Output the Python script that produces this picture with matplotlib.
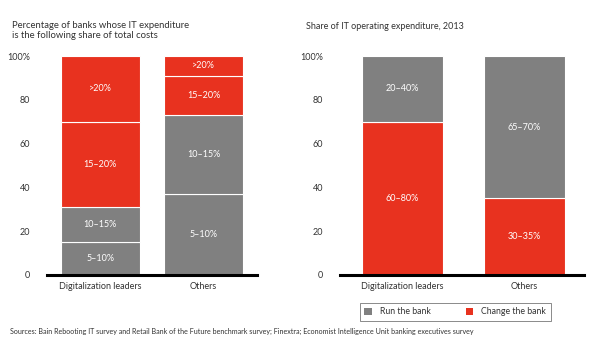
import matplotlib
matplotlib.use("Agg")
import matplotlib.pyplot as plt
from matplotlib.patches import Patch

plt.rcParams['font.family'] = ['Lato', 'DejaVu Sans']

GRAY = '#808080'
RED = '#e8321f'
TXT = '#333333'

# Left chart: share of banks by IT expenditure bucket
left_cats = ['Digitalization leaders', 'Others']
left_buckets = ['5–10%', '10–15%', '15–20%', '>20%']
left_values = {
    '5–10%': [15, 37],
    '10–15%': [16, 36],
    '15–20%': [39, 18],
    '>20%': [30, 9],
}
left_colors = [GRAY, GRAY, RED, RED]

# Right chart: share of IT operating expenditure, 2013
right_cats = ['Digitalization leaders', 'Others']
right_series = ['Change the bank', 'Run the bank']
right_values = {
    'Change the bank': [70, 35],
    'Run the bank': [30, 65],
}
right_labels = {
    'Change the bank': ['60–80%', '30–35%'],
    'Run the bank': ['20–40%', '65–70%'],
}
right_colors = {'Change the bank': RED, 'Run the bank': GRAY}

yticks = [0, 20, 40, 60, 80, 100]
ytick_labels = ['0', '20', '40', '60', '80', '100%']

fig = plt.figure(figsize=(6, 3.42), dpi=100)
bottom = 1 - 275 / 342
height = 219 / 342
axL = fig.add_axes([47 / 600, bottom, 210 / 600, height])
axR = fig.add_axes([340 / 600, bottom, 244 / 600, height])


def style(ax):
    for s in ['top', 'right', 'left']:
        ax.spines[s].set_visible(False)
    ax.spines['bottom'].set_linewidth(2.2)
    ax.spines['bottom'].set_color('black')
    ax.set_ylim(0, 100)
    ax.set_yticks(yticks)
    ax.set_yticklabels(ytick_labels)
    ax.tick_params(axis='y', length=0, pad=12, labelsize=6.5, labelcolor=TXT)
    ax.tick_params(axis='x', length=0, pad=5, labelsize=6.5, labelcolor=TXT)


# Left
xs = list(range(len(left_cats)))
base = [0] * len(left_cats)
for b, c in zip(left_buckets, left_colors):
    vals = left_values[b]
    axL.bar(xs, vals, bottom=base, width=0.76, color=c, edgecolor='white', linewidth=0.8)
    for x, v, b0 in zip(xs, vals, base):
        axL.text(x, b0 + v / 2, b, ha='center', va='center', color='white', fontsize=6.5)
    base = [b0 + v for b0, v in zip(base, vals)]
axL.set_xlim(-0.515, 1.515)
axL.set_xticks(xs)
axL.set_xticklabels(left_cats)
style(axL)

# Right
xs = list(range(len(right_cats)))
base = [0] * len(right_cats)
for s in right_series:
    vals = right_values[s]
    axR.bar(xs, vals, bottom=base, width=0.664, color=right_colors[s], edgecolor='white', linewidth=0.8)
    for x, v, b0, lab in zip(xs, vals, base, right_labels[s]):
        axR.text(x, b0 + v / 2, lab, ha='center', va='center', color='white', fontsize=6.5)
    base = [b0 + v for b0, v in zip(base, vals)]
axR.set_xlim(-0.512, 1.488)
axR.set_xticks(xs)
axR.set_xticklabels(right_cats)
style(axR)

fig.text(12 / 600, 1 - 21 / 342, 'Percentage of banks whose IT expenditure\nis the following share of total costs',
         ha='left', va='top', fontsize=6.8, color=TXT, linespacing=1.2)
fig.text(306 / 600, 1 - 22 / 342, 'Share of IT operating expenditure, 2013',
         ha='left', va='top', fontsize=6.5, color=TXT)

handles = [Patch(facecolor=GRAY, label='Run the bank'), Patch(facecolor=RED, label='Change the bank')]
leg = fig.legend(handles=handles, loc='center', bbox_to_anchor=(455 / 600, 1 - 312 / 342), ncol=2,
                 fontsize=6.3, frameon=True, fancybox=False, edgecolor='#555555',
                 handlelength=0.9, handleheight=0.9, columnspacing=4.0, handletextpad=0.9,
                 borderpad=0.5, borderaxespad=0)
leg.get_frame().set_linewidth(0.6)
for t in leg.get_texts():
    t.set_color(TXT)

fig.text(10 / 600, 1 - 331 / 342,
         'Sources: Bain Rebooting IT survey and Retail Bank of the Future benchmark survey; Finextra; Economist Intelligence Unit banking executives survey',
         ha='left', va='center', fontsize=5.1, color=TXT)

fig.savefig('out.png', dpi=100)
